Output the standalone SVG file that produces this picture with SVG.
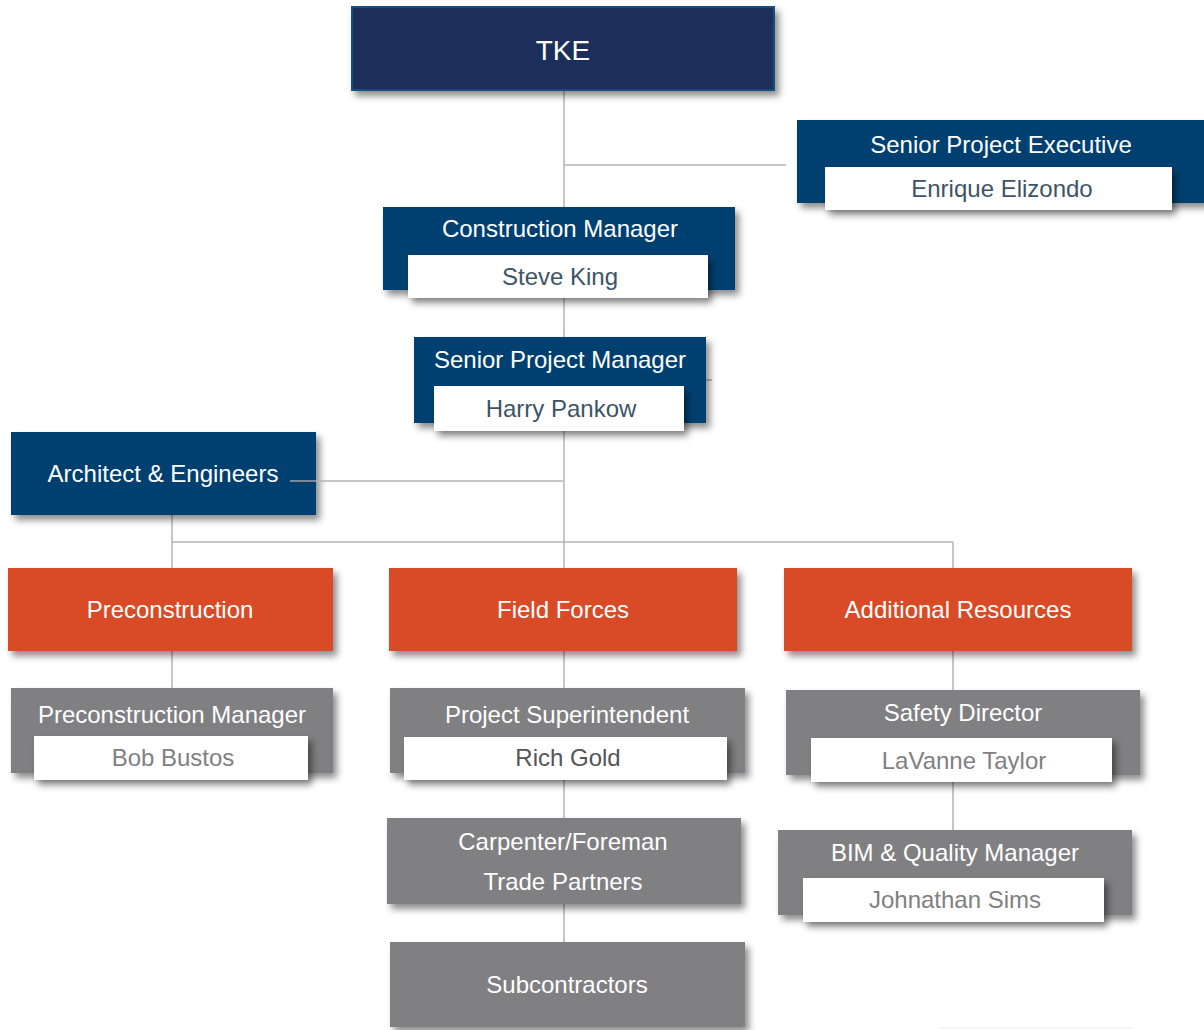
<svg xmlns="http://www.w3.org/2000/svg" width="1204" height="1030" viewBox="0 0 1204 1030">
<defs>
<filter id="sh" x="-10%" y="-20%" width="125%" height="150%">
<feDropShadow dx="4" dy="5" stdDeviation="3.5" flood-color="#000" flood-opacity="0.45"/>
</filter>
<style>
.t{font-family:"Liberation Sans",Arial,sans-serif;font-size:24px;text-anchor:middle;fill:#fff}
.nm{font-family:"Liberation Sans",Arial,sans-serif;font-size:24px;text-anchor:middle}
.blue{fill:#03416f}
.navy{fill:#1c2d5a;stroke:#15507e;stroke-width:2}
.org{fill:#d84b27}
.gry{fill:#808083}
.wht{fill:#fff}
.cn{stroke:#b3b3b3;stroke-width:1.5;fill:none}
</style>
</defs>
<rect width="1204" height="1030" fill="#fff"/>
<g id="connectors">
<line class="cn" x1="564" y1="91" x2="564" y2="568"/>
<line class="cn" x1="564" y1="165" x2="786" y2="165"/>
<line class="cn" x1="706" y1="380" x2="712" y2="380"/>
<line class="cn" x1="172" y1="542" x2="953" y2="542"/>
<line class="cn" x1="172" y1="515" x2="172" y2="568"/>
<line class="cn" x1="953" y1="542" x2="953" y2="568"/>
<line class="cn" x1="172" y1="651" x2="172" y2="688"/>
<line class="cn" x1="564" y1="651" x2="564" y2="688"/>
<line class="cn" x1="953" y1="651" x2="953" y2="690"/>
<line class="cn" x1="564" y1="780" x2="564" y2="818"/>
<line class="cn" x1="564" y1="904" x2="564" y2="942"/>
<line class="cn" x1="953" y1="782" x2="953" y2="830"/>
<line x1="940" y1="1028" x2="1132" y2="1028" stroke="#ececec" stroke-width="1"/>
</g>
<g id="tke">
<rect class="navy" x="352" y="7" width="422" height="83" filter="url(#sh)"/>
<text class="t" x="563" y="60" style="font-size:28px">TKE</text>
</g>
<g id="senior-project-executive">
<rect class="blue" x="797" y="120" width="410" height="83" filter="url(#sh)"/>
<text class="t" x="1001" y="153">Senior Project Executive</text>
<rect class="wht" x="825" y="167" width="347" height="43" filter="url(#sh)"/>
<text class="nm" x="1002" y="197" fill="#3d5468">Enrique Elizondo</text>
</g>
<g id="construction-manager">
<rect class="blue" x="383" y="207" width="352" height="83" filter="url(#sh)"/>
<text class="t" x="560" y="237">Construction Manager</text>
<rect class="wht" x="408" y="255" width="300" height="43" filter="url(#sh)"/>
<text class="nm" x="560" y="285" fill="#3d5468">Steve King</text>
</g>
<g id="senior-project-manager">
<rect class="blue" x="414" y="337" width="292" height="86" filter="url(#sh)"/>
<text class="t" x="560" y="368">Senior Project Manager</text>
<rect class="wht" x="434" y="386" width="250" height="45" filter="url(#sh)"/>
<text class="nm" x="561" y="417" fill="#3d5468">Harry Pankow</text>
</g>
<g id="architect-engineers">
<rect class="blue" x="11" y="432" width="305" height="83" filter="url(#sh)"/>
<text class="t" x="163" y="482">Architect &amp; Engineers</text>
<line x1="290" y1="481" x2="316" y2="481" stroke="#a0a0a0" stroke-width="1.5"/>
<line class="cn" x1="316" y1="481" x2="563" y2="481"/>
</g>
<g id="preconstruction">
<rect class="org" x="8" y="568" width="325" height="83" filter="url(#sh)"/>
<text class="t" x="170" y="618">Preconstruction</text>
</g>
<g id="field-forces">
<rect class="org" x="389" y="568" width="348" height="83" filter="url(#sh)"/>
<text class="t" x="563" y="618">Field Forces</text>
</g>
<g id="additional-resources">
<rect class="org" x="784" y="568" width="348" height="83" filter="url(#sh)"/>
<text class="t" x="958" y="618">Additional Resources</text>
</g>
<g id="preconstruction-manager">
<rect class="gry" x="11" y="688" width="322" height="85" filter="url(#sh)"/>
<text class="t" x="172" y="723">Preconstruction Manager</text>
<rect class="wht" x="34" y="736" width="274" height="44" filter="url(#sh)"/>
<text class="nm" x="173" y="766" fill="#808080">Bob Bustos</text>
</g>
<g id="project-superintendent">
<rect class="gry" x="390" y="688" width="355" height="85" filter="url(#sh)"/>
<text class="t" x="567" y="723">Project Superintendent</text>
<rect class="wht" x="404" y="737" width="323" height="43" filter="url(#sh)"/>
<text class="nm" x="568" y="766" fill="#555">Rich Gold</text>
</g>
<g id="carpenter-foreman">
<rect class="gry" x="387" y="818" width="354" height="86" filter="url(#sh)"/>
<text class="t" x="563" y="850">Carpenter/Foreman</text>
<text class="t" x="563" y="890">Trade Partners</text>
</g>
<g id="subcontractors">
<rect class="gry" x="390" y="942" width="355" height="85" filter="url(#sh)"/>
<text class="t" x="567" y="993">Subcontractors</text>
</g>
<g id="safety-director">
<rect class="gry" x="786" y="690" width="354" height="85" filter="url(#sh)"/>
<text class="t" x="963" y="721">Safety Director</text>
<rect class="wht" x="811" y="738" width="301" height="44" filter="url(#sh)"/>
<text class="nm" x="964" y="769" fill="#808080">LaVanne Taylor</text>
</g>
<g id="bim-quality-manager">
<rect class="gry" x="778" y="830" width="354" height="85" filter="url(#sh)"/>
<text class="t" x="955" y="861">BIM &amp; Quality Manager</text>
<rect class="wht" x="803" y="878" width="301" height="44" filter="url(#sh)"/>
<text class="nm" x="955" y="908" fill="#808080">Johnathan Sims</text>
</g>
</svg>
